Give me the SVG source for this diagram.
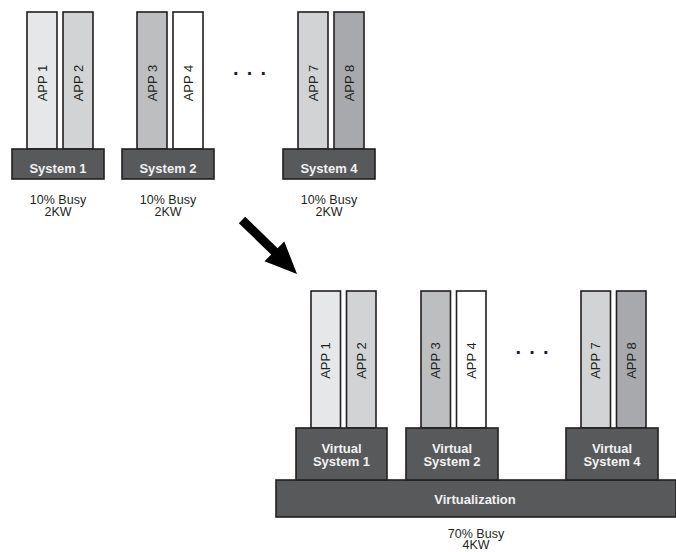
<svg xmlns="http://www.w3.org/2000/svg" width="676" height="552" viewBox="0 0 676 552">
<style>
.app{stroke:#231f20;stroke-width:1.6}
.a1{fill:#e6e7e8}.a2{fill:#d1d3d4}.a3{fill:#bcbec0}.a4{fill:#ffffff}.a7{fill:#d1d3d4}.a8{fill:#a7a9ac}
.box{fill:#58595b;stroke:#231f20;stroke-width:1.6}
.at{font-family:"Liberation Sans",Arial,sans-serif;font-size:13px;fill:#231f20;text-anchor:middle}
.bt{font-family:"Liberation Sans",Arial,sans-serif;font-size:13px;font-weight:bold;fill:#f1f1f2;text-anchor:middle}
.lt{font-family:"Liberation Sans",Arial,sans-serif;font-size:12.5px;fill:#231f20;text-anchor:middle}
.dots{font-family:"Liberation Sans",Arial,sans-serif;font-size:20px;font-weight:bold;fill:#1c1c3a;letter-spacing:8.2px}
</style>
<rect width="676" height="552" fill="#ffffff"/>

<!-- Top row -->
<g id="sys1">
  <rect class="app a1" x="27" y="12" width="30" height="137"/>
  <text class="at" transform="translate(46.5,83) rotate(-90)">APP 1</text>
  <rect class="app a2" x="63" y="12" width="30" height="137"/>
  <text class="at" transform="translate(82.5,83) rotate(-90)">APP 2</text>
  <rect class="box" x="12" y="149" width="92" height="30"/>
  <text class="bt" x="58" y="173">System 1</text>
  <text class="lt" x="58" y="203.5">10% Busy</text>
  <text class="lt" x="58" y="216">2KW</text>
</g>
<g id="sys2">
  <rect class="app a3" x="137" y="12" width="30" height="137"/>
  <text class="at" transform="translate(156.5,83) rotate(-90)">APP 3</text>
  <rect class="app a4" x="173" y="12" width="30" height="137"/>
  <text class="at" transform="translate(192.5,83) rotate(-90)">APP 4</text>
  <rect class="box" x="122" y="149" width="92" height="30"/>
  <text class="bt" x="168" y="173">System 2</text>
  <text class="lt" x="168" y="203.5">10% Busy</text>
  <text class="lt" x="168" y="216">2KW</text>
</g>
<text id="dots-top" class="dots" x="233" y="75">...</text>
<g id="sys4">
  <rect class="app a7" x="298" y="12" width="30" height="137"/>
  <text class="at" transform="translate(317.5,83) rotate(-90)">APP 7</text>
  <rect class="app a8" x="334" y="12" width="30" height="137"/>
  <text class="at" transform="translate(353.5,83) rotate(-90)">APP 8</text>
  <rect class="box" x="283" y="149" width="92" height="30"/>
  <text class="bt" x="329" y="173">System 4</text>
  <text class="lt" x="329" y="203.5">10% Busy</text>
  <text class="lt" x="329" y="216">2KW</text>
</g>

<g id="connectors">
  <polygon fill="#000000" points="245.2,216.8 277.6,248.2 284.3,241.5 297,274 264.5,261.3 271.2,254.6 238.8,223.2"/>
</g>

<!-- Bottom -->
<g id="virtualization">
  <rect class="box" x="276" y="480" width="400" height="37"/>
  <text class="bt" x="475" y="504">Virtualization</text>
  <text class="lt" x="476" y="537.5">70% Busy</text>
  <text class="lt" x="476" y="549">4KW</text>
</g>
<g id="vsys1">
  <rect class="app a1" x="311" y="291" width="29.5" height="137"/>
  <text class="at" transform="translate(330,360.5) rotate(-90)">APP 1</text>
  <rect class="app a2" x="346.5" y="291" width="29.5" height="137"/>
  <text class="at" transform="translate(365.5,360.5) rotate(-90)">APP 2</text>
  <rect class="box" x="296" y="428" width="91" height="52"/>
  <text class="bt" x="341.5" y="453">Virtual</text>
  <text class="bt" x="341.5" y="466">System 1</text>
</g>
<g id="vsys2">
  <rect class="app a3" x="421" y="291" width="29.5" height="137"/>
  <text class="at" transform="translate(440,360.5) rotate(-90)">APP 3</text>
  <rect class="app a4" x="456.5" y="291" width="29.5" height="137"/>
  <text class="at" transform="translate(475.5,360.5) rotate(-90)">APP 4</text>
  <rect class="box" x="406" y="428" width="92" height="52"/>
  <text class="bt" x="452" y="453">Virtual</text>
  <text class="bt" x="452" y="466">System 2</text>
</g>
<text id="dots-bottom" class="dots" x="515.5" y="353.5">...</text>
<g id="vsys4">
  <rect class="app a7" x="581" y="291" width="29.5" height="137"/>
  <text class="at" transform="translate(600,360.5) rotate(-90)">APP 7</text>
  <rect class="app a8" x="616.5" y="291" width="29.5" height="137"/>
  <text class="at" transform="translate(635.5,360.5) rotate(-90)">APP 8</text>
  <rect class="box" x="566" y="428" width="92" height="52"/>
  <text class="bt" x="612" y="453">Virtual</text>
  <text class="bt" x="612" y="466">System 4</text>
</g>
</svg>
